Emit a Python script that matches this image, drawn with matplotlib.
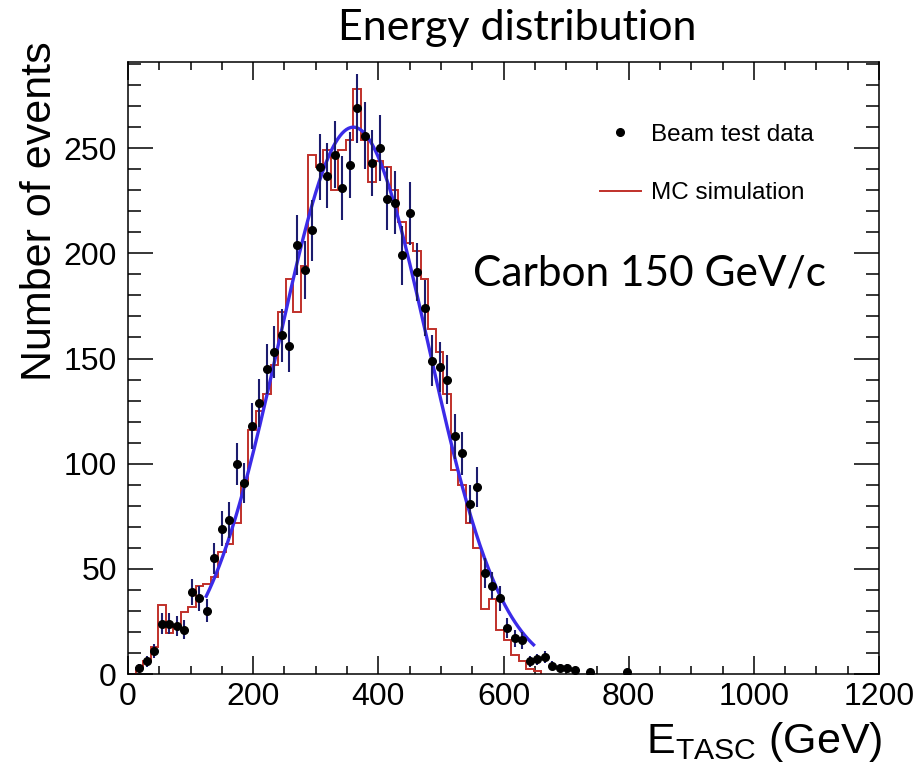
import numpy as np
import matplotlib
matplotlib.use('Agg')
import matplotlib.pyplot as plt
from matplotlib.lines import Line2D
from matplotlib.ticker import MultipleLocator

plt.rcParams['font.family'] = ['Liberation Sans', 'DejaVu Sans']
plt.rcParams['mathtext.fontset'] = 'custom'
plt.rcParams['mathtext.rm'] = 'Liberation Sans'
plt.rcParams['mathtext.it'] = 'Liberation Sans'

# beam test data (bin centres in GeV, counts)
data_e = [18, 30, 42, 54, 66, 78, 90, 102, 114, 126, 138, 150, 162, 174, 186,
          198, 210, 222, 234, 246, 258, 270, 282, 294, 306, 318, 330, 342, 354,
          366, 378, 390, 402, 414, 426, 438, 450, 462, 474, 486, 498, 510, 522,
          534, 546, 558, 570, 582, 594, 606, 618, 630, 642, 654, 666, 678, 690,
          702, 714, 738, 798]
data_n = [3, 6, 11, 24, 24, 23, 21, 39, 36, 30, 55, 69, 73, 100, 91,
          118, 129, 145, 153, 161, 156, 204, 192, 211, 241, 237, 247, 231, 242,
          269, 256, 243, 250, 226, 224, 199, 219, 191, 174, 149, 146, 140, 113,
          105, 81, 89, 48, 42, 36, 22, 17, 16, 6, 7, 8, 4, 3,
          3, 2, 1, 1]

# MC simulation histogram, 12 GeV bins from 12 to 660 GeV
mc_edges = list(range(12, 661, 12))
mc_n = [3, 6, 13, 33, 19.5, 22.5, 29.7, 32, 42, 43, 46, 58, 62, 72, 91,
        116, 125, 133, 147, 172, 188, 172, 194, 247, 241, 249, 230, 249, 254,
        278, 254, 234, 244, 241, 230, 215, 205, 201, 188, 164, 153, 133, 97,
        90, 72, 60, 31, 35.5, 21, 16, 9, 6, 2.2, 1.5]

# gaussian fit parameters
fit_amp, fit_mean, fit_sigma = 260.0, 360.0, 119.0
fit_range = (125, 648)

fig = plt.figure(figsize=(9.15, 7.66), dpi=100)
ax = fig.add_axes([0.1399, 0.1201, 0.8208, 0.7990])

ax.stairs(mc_n, mc_edges, color='#c0302a', lw=1.4, zorder=2)

fx = np.linspace(fit_range[0], fit_range[1], 300)
fy = fit_amp * np.exp(-(fx - fit_mean) ** 2 / (2 * fit_sigma ** 2))
ax.plot(fx, fy, color='#3b2be8', lw=2.4, zorder=3)

ax.errorbar(data_e, data_n, yerr=np.sqrt(data_n), fmt='o', color='black',
            ms=5.5, ecolor='#1c1c6e', elinewidth=1.5, capsize=0, zorder=4)

ax.set_xlim(0, 1200)
ax.set_ylim(0, 291)
ax.xaxis.set_major_locator(MultipleLocator(200))
ax.xaxis.set_minor_locator(MultipleLocator(50))
ax.yaxis.set_major_locator(MultipleLocator(50))
ax.yaxis.set_minor_locator(MultipleLocator(10))
ax.tick_params(which='both', direction='in', top=True, right=True,
               labelsize=23, width=1.1)
ax.tick_params(axis='x', which='major', length=13, pad=6)
ax.tick_params(axis='x', which='minor', length=6)
ax.tick_params(axis='y', which='major', length=18, pad=8)
ax.tick_params(axis='y', which='minor', length=9.5)
for s in ax.spines.values():
    s.set_linewidth(1.1)

# ROOT-style axis titles pushed to the ends of the axes
ax.set_ylabel('Number of events', fontsize=31)
ax.yaxis.set_label_coords(-0.117, 1.033)
ax.yaxis.label.set_horizontalalignment('right')
ax.yaxis.label.set_verticalalignment('center')
ax.set_xlabel(r'$\mathregular{E_{TASC}}$ (GeV)', fontsize=31)
ax.xaxis.set_label_coords(1.005, -0.075)
ax.xaxis.label.set_horizontalalignment('right')

handles = [Line2D([], [], marker='o', color='black', ls='none', ms=5.5),
           Line2D([], [], color='#c0302a', lw=1.4)]
ax.legend(handles, ['Beam test data', 'MC simulation'], loc='upper left',
          bbox_to_anchor=(0.628, 0.899), frameon=False, fontsize=17.5,
          handlelength=1.7, handletextpad=0.4, labelspacing=1.5,
          borderpad=0, borderaxespad=0)

ax.text(0.46, 0.634, 'Carbon 150 GeV/c', transform=ax.transAxes,
        fontsize=30.5, family=['Lato', 'DejaVu Sans'])
fig.text(0.565, 0.963, 'Energy distribution', ha='center', va='center',
         fontsize=31, family=['Lato', 'DejaVu Sans'])

fig.savefig('out.png', dpi=100)
